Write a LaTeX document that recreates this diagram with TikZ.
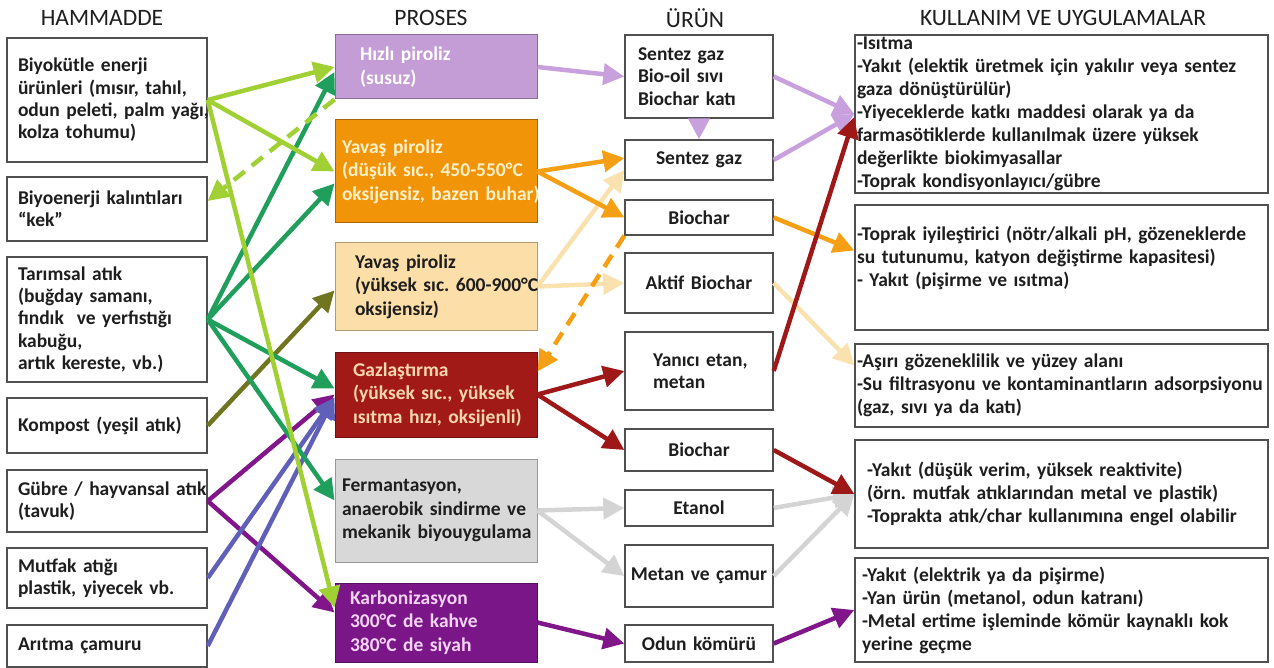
\documentclass[tikz,border=0pt]{standalone}
\usepackage{fontspec}
\setmainfont{Carlito}
\usetikzlibrary{arrows.meta}
\frenchspacing

\definecolor{ink}{RGB}{30,30,30}
\definecolor{boxframe}{RGB}{80,80,80}
% fills of the process boxes
\definecolor{plilac}{RGB}{196,156,214}
\definecolor{porange}{RGB}{242,148,8}
\definecolor{ppeach}{RGB}{252,222,168}
\definecolor{pred}{RGB}{162,26,24}
\definecolor{pgray}{RGB}{216,216,216}
\definecolor{pplum}{RGB}{122,22,136}
% arrow colours
\definecolor{alime}{RGB}{160,208,52}
\definecolor{ateal}{RGB}{32,158,92}
\definecolor{aolive}{RGB}{112,118,32}
\definecolor{aslate}{RGB}{96,96,184}
\definecolor{aplum}{RGB}{128,22,138}
\definecolor{alilac}{RGB}{200,160,222}
\definecolor{aorange}{RGB}{245,160,20}
\definecolor{apeach}{RGB}{250,226,175}
\definecolor{ared}{RGB}{158,24,24}
\definecolor{agray}{RGB}{212,212,212}

\tikzset{
  pad/.style={execute at begin node={\leftskip=#1\relax}},
  fitline/.style={execute at begin node={\rightskip=0pt plus 1fil minus 25pt\relax}},
  coltitle/.style={font=\fontsize{23.5}{25}\selectfont, text=ink},
  srcbox/.style={draw=boxframe, line width=1.4pt, fill=white, text=ink, align=left,
    font=\bfseries\fontsize{19.5}{22.4}\selectfont, inner xsep=0pt, inner ysep=0pt,
    text width=200pt, minimum width=200pt, pad=11pt, fitline},
  procbox/.style={draw=#1!70!black, line width=1pt, fill=#1, align=left,
    font=\bfseries\fontsize{19.5}{23.5}\selectfont, inner xsep=0pt, inner ysep=0pt,
    text width=202pt, minimum width=202pt, pad=7pt, fitline},
  prodbox/.style={draw=boxframe, line width=1.4pt, fill=white, text=ink, align=center,
    font=\bfseries\fontsize{19.5}{22.4}\selectfont, inner xsep=0pt, inner ysep=0pt,
    text width=148pt, minimum width=148pt},
  usebox/.style={draw=boxframe, line width=1.4pt, fill=white, text=ink, align=left,
    font=\bfseries\fontsize{19.5}{23}\selectfont, inner xsep=0pt, inner ysep=0pt,
    text width=413pt, minimum width=413pt, pad=2pt, fitline},
  flow/.style={draw=#1, line width=4.5pt, -{Triangle[length=21pt,width=21pt]}},
  dashflow/.style={flow=#1, dash pattern=on 14pt off 9pt},
}

\begin{document}
\begin{tikzpicture}[x=1pt, y=-1pt]
\useasboundingbox (0,0) rectangle (1274,668);

% ======================================
% COLUMN TITLES
% ======================================
\node[coltitle] (tham) at (102,18) {HAMMADDE};
\node[coltitle] (tpro) at (431,18) {PROSES};
\node[coltitle] (turun) at (695,18) {ÜRÜN};
\node[coltitle] (tkul) at (1063,18) {KULLANIM VE UYGULAMALAR};

% ======================================
% HAMMADDE
% ======================================
\node[srcbox, minimum height=124pt] (bek) at (107,100) {Biyokütle enerji\\ürünleri (mısır, tahıl,\\odun peleti, palm yağı,\\kolza tohumu)};
\node[srcbox, minimum height=64pt] (bkk) at (107,209) {Biyoenerji kalıntıları\\``kek''};
\node[srcbox, minimum height=125pt] (tar) at (107,319.5) {Tarımsal atık\\(buğday samanı,\\fındık\ \ ve yerfıstığı\\kabuğu,\\artık kereste, vb.)};
\node[srcbox, minimum height=55pt] (komp) at (107,425.5) {Kompost (yeşil atık)};
\node[srcbox, minimum height=62pt] (gub) at (107,501) {Gübre / hayvansal atık\\(tavuk)};
\node[srcbox, minimum height=60pt] (mut) at (107,578) {Mutfak atığı\\plastik, yiyecek vb.};
\node[srcbox, minimum height=42pt] (ari) at (107,646) {Arıtma çamuru};

% ======================================
% PROSES
% ======================================
\node[procbox=plilac, text=white, pad=25pt, minimum height=64pt] (hp) at (436,67) {Hızlı piroliz\\(susuz)};
\node[procbox=porange, text={rgb,255:red,255;green,240;blue,200}, minimum height=103pt] (ypd) at (436,171.5) {Yavaş piroliz\\(düşük sıc., 450-550°C\\oksijensiz, bazen buhar)};
\node[procbox=ppeach, text=ink, pad=20pt, minimum height=87pt] (ypy) at (436,286.5) {Yavaş piroliz\\(yüksek sıc. 600-900°C\\oksijensiz)};
\node[procbox=pred, text={rgb,255:red,248;green,214;blue,176}, pad=18pt, minimum height=85pt] (gaz) at (436,394.5) {Gazlaştırma\\(yüksek sıc., yüksek\\ısıtma hızı, oksijenli)};
\node[procbox=pgray, text=ink, minimum height=103pt] (ferm) at (436,510.5) {Fermantasyon,\\anaerobik sindirme ve\\mekanik biyouygulama};
\node[procbox=pplum, text={rgb,255:red,244;green,212;blue,244}, pad=15pt, minimum height=79pt] (karb) at (436,622.5) {Karbonizasyon\\300°C de kahve\\380°C de siyah};

% ======================================
% ÜRÜN
% ======================================
\node[prodbox, align=left, pad=13pt, minimum height=83pt] (sbb) at (699,76.5) {Sentez gaz\\Bio-oil sıvı\\Biochar katı};
\node[prodbox, minimum height=40pt] (sg) at (699,160) {Sentez gaz};
\node[prodbox, minimum height=35pt] (bc) at (699,217.5) {Biochar};
\node[prodbox, minimum height=60pt] (abc) at (699,283) {Aktif Biochar};
\node[prodbox, align=left, pad=28pt, minimum height=78pt] (yem) at (699,371) {Yanıcı etan,\\metan};
\node[prodbox, minimum height=42pt] (bcg) at (699,450) {Biochar};
\node[prodbox, minimum height=36pt] (et) at (699,508) {Etanol};
\node[prodbox, minimum height=62pt] (mc) at (699,576) {Metan ve çamur};
\node[prodbox, minimum height=37pt] (ok) at (699,643.5) {Odun kömürü};

% ======================================
% KULLANIM VE UYGULAMALAR
% ======================================
\node[usebox, minimum height=158pt] (isi) at (1061.5,114) {-Isıtma\\-Yakıt (elektik üretmek için yakılır veya sentez\\gaza dönüştürülür)\\-Yiyeceklerde katkı maddesi olarak ya da\\farmasötiklerde kullanılmak üzere yüksek\\değerlikte biokimyasallar\\-Toprak kondisyonlayıcı/gübre};
\node[usebox, minimum height=125pt] (top) at (1061.5,267.5) {-Toprak iyileştirici (nötr/alkali pH, gözeneklerde\\su tutunumu, katyon değiştirme kapasitesi)\\- Yakıt (pişirme ve ısıtma)\\\mbox{}};
\node[usebox, minimum height=83pt] (goz) at (1061.5,385.5) {-Aşırı gözeneklilik ve yüzey alanı\\-Su filtrasyonu ve kontaminantların adsorpsiyonu\\(gaz, sıvı ya da katı)};
\node[usebox, pad=12pt, minimum height=108pt] (yak) at (1061.5,494) {-Yakıt (düşük verim, yüksek reaktivite)\\(örn. mutfak atıklarından metal ve plastik)\\-Toprakta atık/char kullanımına engel olabilir};
\node[usebox, pad=7pt, minimum height=104pt] (ele) at (1061.5,610) {-Yakıt (elektrik ya da pişirme)\\-Yan ürün (metanol, odun katranı)\\-Metal ertime işleminde kömür kaynaklı kok\\yerine geçme};

% ======================================
% HAMMADDE -> PROSES
% ======================================
\draw[flow=aolive] (komp.east) -- ([yshift=-4pt]ypy.west);
\draw[flow=aplum] (gub.east) -- (gaz.west);
\draw[flow=aplum] (gub.east) -- ([yshift=10pt]karb.west);
\draw[flow=aslate] (mut.east) -- ([yshift=-3pt]gaz.west);
\draw[flow=aslate] (ari.east) -- ([yshift=-3pt]gaz.west);
\draw[flow=ateal] (tar.east) -- ([yshift=-5pt]hp.west);
\draw[flow=ateal] (tar.east) -- ([yshift=-12pt]ypd.west);
\draw[flow=ateal] (tar.east) -- ([yshift=6pt]gaz.west);
\draw[flow=ateal] (tar.east) -- ([yshift=10pt]ferm.west);
\draw[flow=alime] (bek.east) -- (hp.west);
\draw[flow=alime] (bek.east) -- (ypd.west);
\draw[flow=alime] (bek.east) -- ([yshift=15pt]karb.west);
\draw[dashflow=alime] (hp.south west) -- ([yshift=8pt]bkk.east);

% ======================================
% PROSES -> ÜRÜN
% ======================================
\draw[flow=alilac] (hp.east) -- (sbb.west);
\draw[flow=alilac] (sbb.south) -- (sg.north);
\draw[flow=apeach] (ypy.east) -- ([yshift=-10pt]sg.west);
\draw[flow=apeach] (ypy.east) -- (abc.west);
\draw[flow=aorange] (ypd.east) -- ([yshift=2pt]sg.west);
\draw[flow=aorange] (ypd.east) -- (bc.west);
\draw[dashflow=aorange] (bc.south west) -- ([yshift=-20pt]gaz.north east);
\draw[flow=ared] (gaz.east) -- (yem.west);
\draw[flow=ared] (gaz.east) -- (bcg.west);
\draw[flow=agray] (ferm.east) -- (et.west);
\draw[flow=agray] (ferm.east) -- (mc.west);
\draw[flow=aplum] (karb.east) -- (ok.west);

% ======================================
% ÜRÜN -> KULLANIM
% ======================================
\draw[flow=alilac] (sbb.east) -- (isi.west);
\draw[flow=alilac] (sg.east) -- (isi.west);
\draw[flow=aorange] (bc.east) -- ([yshift=17pt]top.west);
\draw[flow=apeach] (abc.east) -- ([yshift=20pt]goz.west);
\draw[flow=ared] (yem.east) -- ([yshift=-3pt]isi.west);
\draw[flow=agray] (et.east) -- (yak.west);
\draw[flow=agray] (mc.east) -- (yak.west);
\draw[flow=ared] (bcg.east) -- (yak.west);
\draw[flow=aplum] (ok.east) -- (ele.west);

\end{tikzpicture}
\end{document}
